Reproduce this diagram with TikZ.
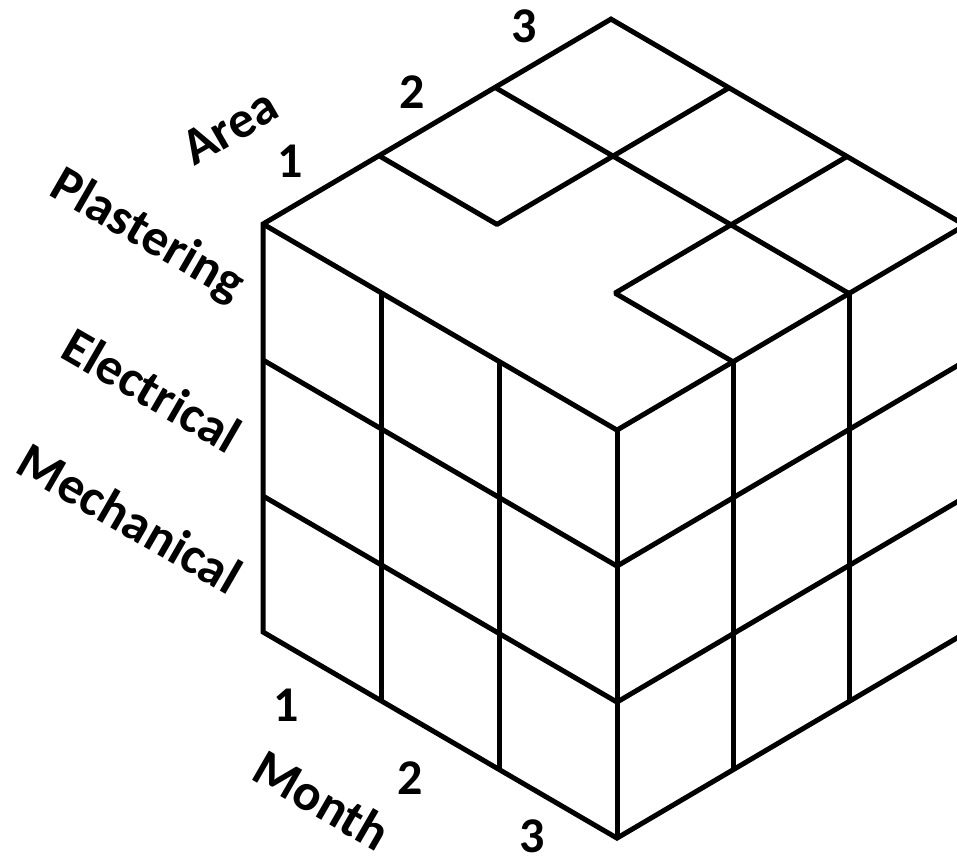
\documentclass[tikz,border=0pt]{standalone}
\usepackage{fontspec}
\setmainfont{Carlito}
\usepackage{tikz}

\begin{document}
\begin{tikzpicture}[
    x=1pt, y=-1pt,
    edge/.style={line width=5pt},
    cut/.style={line width=5pt, line join=bevel},
    axis/.style={font=\fontsize{52}{56}\selectfont\bfseries, inner sep=0pt},
    tick/.style={font=\fontsize{50}{54}\selectfont\bfseries, inner sep=0pt}
]
\useasboundingbox (0,0) rectangle (957,860);

% Cube (x = month, y = area, z = level down)
\begin{scope}[shift={(263pt,-224pt)}, x={(118pt,-68.7pt)}, y={(116pt,68.3pt)}, z={(0pt,-136pt)}]
  % outline
  \draw[edge] (0,0,3) -- (0,0,0) -- (0,3,0) -- (3,3,0) -- (3,3,3) -- (3,0,3) -- cycle;
  % front-left face
  \foreach \i in {1,2,3} \draw[edge] (\i,0,0) -- (\i,0,3);
  \foreach \i in {0,1,2} \draw[edge] (0,0,\i) -- (3,0,\i);
  % right face
  \foreach \i in {1,2} \draw[edge] (3,\i,0) -- (3,\i,3);
  \foreach \i in {0,1,2} \draw[edge] (3,0,\i) -- (3,3,\i);
  % top face
  \draw[edge] (0,2,0) -- (3,2,0);
  \draw[cut] (0,1,0) -- (1,1,0) -- (1,3,0);
  \draw[cut] (3,1,0) -- (2,1,0) -- (2,3,0);
\end{scope}

% Area axis
\node[axis, rotate=30] (area) at (230,127) {Area};
\node[tick] (a1) at (290,161) {1};
\node[tick] (a2) at (412,92) {2};
\node[tick] (a3) at (524,26) {3};

% Trades
\node[axis, rotate=-30] (plast) at (147,236) {Plastering};
\node[axis, rotate=-30] (elec) at (152,390) {Electrical};
\node[axis, rotate=-30] (mech) at (130,518) {Mechanical};

% Month axis
\node[tick] (m1) at (286,705) {1};
\node[tick] (m2) at (410,778) {2};
\node[tick] (m3) at (532,836) {3};
\node[axis, rotate=-30] (month) at (322,800) {Month};

\end{tikzpicture}
\end{document}
